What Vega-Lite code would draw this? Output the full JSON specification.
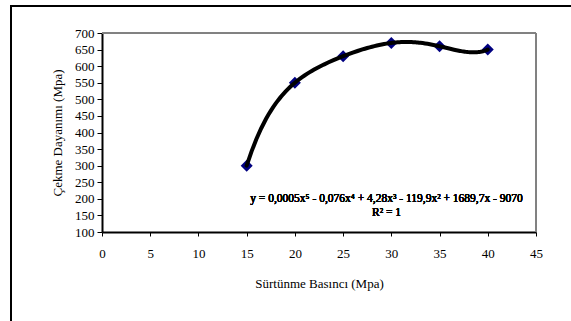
{
  "$schema": "https://vega.github.io/schema/vega-lite/v6.json",
  "autosize": {"type": "none"},
  "padding": {"left": 11, "top": 6, "right": 0, "bottom": 0},
  "width": 570,
  "height": 320,
  "background": "white",
  "config": {
    "view": {"stroke": "black", "strokeWidth": 2}
  },
  "data": {
    "values": [
      {"p": 15, "s": 300},
      {"p": 20, "s": 550},
      {"p": 25, "s": 630},
      {"p": 30, "s": 670},
      {"p": 35, "s": 660},
      {"p": 40, "s": 650}
    ]
  },
  "layer": [
    {
      "mark": {"type": "point", "shape": "diamond", "filled": true, "size": 144, "color": "#000080", "opacity": 1},
      "encoding": {
        "x": {
          "field": "p", "type": "quantitative",
          "scale": {"domain": [0, 45], "range": [91, 525], "nice": false, "zero": false},
          "axis": {
            "title": "Sürtünme Basıncı (Mpa)",
            "values": [0, 5, 10, 15, 20, 25, 30, 35, 40, 45],
            "tickCount": 10,
            "offset": -94,
            "grid": false,
            "domainWidth": 2,
            "domainColor": "black",
            "tickColor": "black",
            "tickSize": 4,
            "labelFont": "Liberation Serif",
            "labelFontSize": 13,
            "labelColor": "black",
            "labelOverlap": false,
            "labelFlush": false,
            "labelPadding": 11,
            "titleFont": "Liberation Serif",
            "titleFontSize": 13,
            "titleFontWeight": "normal",
            "titleColor": "black",
            "titlePadding": 17
          }
        },
        "y": {
          "field": "s", "type": "quantitative",
          "scale": {"domain": [100, 700], "range": [226, 27], "nice": false, "zero": false},
          "axis": {
            "title": "Çekme Dayanımı (Mpa)",
            "values": [100, 150, 200, 250, 300, 350, 400, 450, 500, 550, 600, 650, 700],
            "tickCount": 13,
            "offset": -91,
            "grid": false,
            "domainWidth": 2,
            "domainColor": "black",
            "tickColor": "black",
            "tickSize": 5,
            "labelFont": "Liberation Serif",
            "labelFontSize": 13,
            "labelColor": "black",
            "labelOverlap": false,
            "labelFlush": false,
            "labelPadding": 3,
            "titleFont": "Liberation Serif",
            "titleFontSize": 13,
            "titleFontWeight": "normal",
            "titleColor": "black",
            "titlePadding": 10
          }
        }
      }
    },
    {
      "mark": {"type": "rule", "color": "#808080", "strokeWidth": 1},
      "encoding": {
        "x": {"datum": 45, "type": "quantitative"},
        "y": {"datum": 100, "type": "quantitative"},
        "y2": {"datum": 700}
      }
    },
    {
      "mark": {"type": "rule", "color": "#808080", "strokeWidth": 1},
      "encoding": {
        "x": {"datum": 0, "type": "quantitative"},
        "x2": {"datum": 45},
        "y": {"datum": 700, "type": "quantitative"}
      }
    },
    {
      "transform": [
        {"regression": "s", "on": "p", "method": "poly", "order": 5, "extent": [15, 40]}
      ],
      "mark": {"type": "line", "color": "black", "strokeWidth": 4, "strokeCap": "round"},
      "encoding": {
        "x": {"field": "p", "type": "quantitative"},
        "y": {"field": "s", "type": "quantitative"}
      }
    },
    {
      "mark": {"type": "text", "text": "y = 0,0005x⁵ - 0,076x⁴ + 4,28x³ - 119,9x² + 1689,7x - 9070", "font": "Liberation Serif", "fontSize": 11.5, "fontWeight": "normal", "color": "black", "align": "center", "baseline": "middle"},
      "encoding": {
        "x": {"datum": 29.5, "type": "quantitative"},
        "y": {"datum": 199, "type": "quantitative"}
      }
    },
    {
      "mark": {"type": "text", "text": "R² = 1", "font": "Liberation Serif", "fontSize": 11.5, "fontWeight": "normal", "color": "black", "align": "center", "baseline": "middle"},
      "encoding": {
        "x": {"datum": 29.5, "type": "quantitative"},
        "y": {"datum": 157, "type": "quantitative"}
      }
    }
  ]
}
